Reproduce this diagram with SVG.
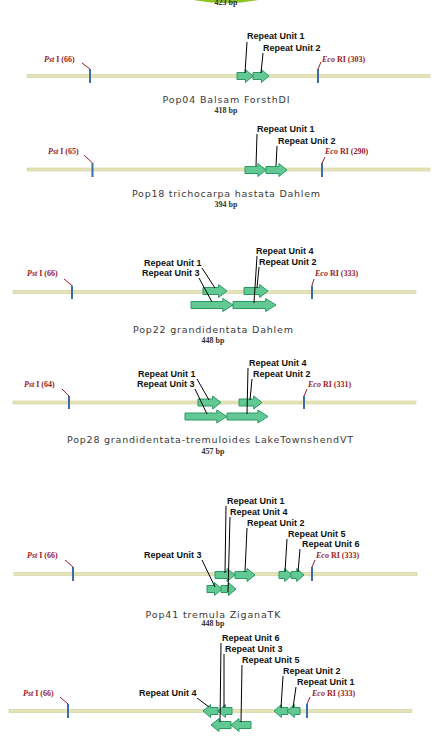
<svg xmlns="http://www.w3.org/2000/svg" width="438" height="745" viewBox="0 0 438 745">
<style>
.bb{fill:#e4e4b8;stroke:#cfcf9c;stroke-width:0.6}
.site{stroke:#3b6ea8;stroke-width:2}
.rl{stroke:#9a1c28;stroke-width:1}
.rs{font-family:"Liberation Serif",serif;font-size:8px;font-weight:bold;fill:#9a1c28}
.rs tspan.i{font-style:italic}
.ru{font-family:"Liberation Sans",Arial,sans-serif;font-size:9px;font-weight:bold;fill:#111}
.ld{stroke:#000;stroke-width:1;fill:none}
.ar{fill:#62c995;stroke:#2a9960;stroke-width:1;stroke-linejoin:miter}
.tt{font-family:"DejaVu Sans",sans-serif;font-size:9.5px;fill:#3a3a3a;text-anchor:middle}
.bp{font-family:"Liberation Serif",serif;font-size:8px;font-weight:bold;fill:#333;text-anchor:middle}
</style>

<g id="top">
<ellipse cx="226" cy="-30" rx="77" ry="33" fill="#8dc21f"/>
<text class="bp" x="226" y="5">423 bp</text>
</g>

<!-- Panel 1 -->
<g id="p1">
<rect class="bb" x="27" y="74.5" width="403" height="3"/>
<g id="p1-pst"><line class="rl" x1="82" y1="63" x2="90" y2="69"/><line class="site" x1="90" y1="69" x2="90" y2="83"/><text class="rs" x="44" y="62"><tspan class="i">Pst</tspan> I (66)</text></g>
<g id="p1-eco"><line class="rl" x1="318" y1="69" x2="321" y2="62"/><line class="site" x1="318" y1="69" x2="318" y2="83"/><text class="rs" x="322" y="62"><tspan class="i">Eco</tspan> RI (303)</text></g>
<g id="p1-ru1"><path class="ar" d="M237 72.5 H245.4 V69.5 L253 76 L245.4 82.5 V79.5 H237Z"/><text class="ru" x="247" y="39">Repeat Unit 1</text></g>
<g id="p1-ru2"><path class="ar" d="M253 72.5 H261.4 V69.5 L269 76 L261.4 82.5 V79.5 H253Z"/><text class="ru" x="263" y="51">Repeat Unit 2</text></g>
<text class="tt" x="226" y="103" textLength="127" lengthAdjust="spacing">Pop04 Balsam ForsthDI</text>
<text class="bp" x="226" y="113">418 bp</text>
</g>

<!-- Panel 2 -->
<g id="p2">
<rect class="bb" x="27" y="168" width="403" height="3"/>
<g id="p2-pst"><line class="rl" x1="84" y1="155" x2="92.5" y2="163"/><line class="site" x1="92.5" y1="163" x2="92.5" y2="177"/><text class="rs" x="48" y="154"><tspan class="i">Pst</tspan> I (65)</text></g>
<g id="p2-eco"><line class="rl" x1="322" y1="163" x2="325" y2="157"/><line class="site" x1="322" y1="163" x2="322" y2="177"/><text class="rs" x="325" y="154"><tspan class="i">Eco</tspan> RI (290)</text></g>
<g id="p2-ru1"><path class="ar" d="M245 166.5 H257.9 V163.5 L266 170 L257.9 176.5 V173.5 H245Z"/><text class="ru" x="257" y="132">Repeat Unit 1</text></g>
<g id="p2-ru2"><path class="ar" d="M266 166.5 H278.9 V163.5 L287 170 L278.9 176.5 V173.5 H266Z"/><text class="ru" x="278" y="144">Repeat Unit 2</text></g>
<text class="tt" x="226" y="197" textLength="188" lengthAdjust="spacing">Pop18 trichocarpa hastata Dahlem</text>
<text class="bp" x="226" y="207">394 bp</text>
</g>

<!-- Panel 3 -->
<g id="p3">
<rect class="bb" x="13" y="290.5" width="403" height="3"/>
<g id="p3-pst"><line class="rl" x1="64" y1="279" x2="72" y2="285.5"/><line class="site" x1="72" y1="285.5" x2="72" y2="299"/><text class="rs" x="27" y="276"><tspan class="i">Pst</tspan> I (66)</text></g>
<g id="p3-eco"><line class="rl" x1="312" y1="285.5" x2="314" y2="279"/><line class="site" x1="312" y1="285.5" x2="312" y2="299"/><text class="rs" x="315" y="276"><tspan class="i">Eco</tspan> RI (333)</text></g>
<g id="p3-ru1"><path class="ar" d="M203 287.5 H218.6 V284.5 L227 291 L218.6 297.5 V294.5 H203Z"/><text class="ru" x="144" y="266">Repeat Unit 1</text></g>
<g id="p3-ru2"><path class="ar" d="M244 287.5 H259.6 V284.5 L268 291 L259.6 297.5 V294.5 H244Z"/><text class="ru" x="259" y="265">Repeat Unit 2</text></g>
<g id="p3-ru3"><path class="ar" d="M191 301.5 H222.8 V298.5 L233 305 L222.8 311.5 V308.5 H191Z"/><text class="ru" x="142" y="276">Repeat Unit 3</text></g>
<g id="p3-ru4"><path class="ar" d="M233 301.5 H265.7 V298.5 L276 305 L265.7 311.5 V308.5 H233Z"/><text class="ru" x="256" y="254">Repeat Unit 4</text></g>
<text class="tt" x="213" y="333" textLength="160" lengthAdjust="spacing">Pop22 grandidentata Dahlem</text>
<text class="bp" x="213" y="343">448 bp</text>
</g>

<!-- Panel 4 -->
<g id="p4">
<rect class="bb" x="13" y="401" width="403" height="3"/>
<g id="p4-pst"><line class="rl" x1="62" y1="389" x2="69" y2="396"/><line class="site" x1="69" y1="396" x2="69" y2="409"/><text class="rs" x="24" y="387"><tspan class="i">Pst</tspan> I (64)</text></g>
<g id="p4-eco"><line class="rl" x1="304" y1="396" x2="307" y2="389"/><line class="site" x1="304" y1="396" x2="304" y2="409"/><text class="rs" x="308" y="387"><tspan class="i">Eco</tspan> RI (331)</text></g>
<g id="p4-ru1"><path class="ar" d="M198 399 H212.7 V396 L221 402.5 L212.7 409 V406 H198Z"/><text class="ru" x="138" y="377">Repeat Unit 1</text></g>
<g id="p4-ru2"><path class="ar" d="M239 399 H253.7 V396 L262 402.5 L253.7 409 V406 H239Z"/><text class="ru" x="253" y="377">Repeat Unit 2</text></g>
<g id="p4-ru3"><path class="ar" d="M185 413 H216.8 V410 L227 416.5 L216.8 423 V420 H185Z"/><text class="ru" x="137" y="387">Repeat Unit 3</text></g>
<g id="p4-ru4"><path class="ar" d="M227 413 H257.9 V410 L268 416.5 L257.9 423 V420 H227Z"/><text class="ru" x="249" y="366">Repeat Unit 4</text></g>
<text class="tt" x="210" y="443" textLength="286" lengthAdjust="spacing">Pop28 grandidentata-tremuloides LakeTownshendVT</text>
<text class="bp" x="213" y="454">457 bp</text>
</g>

<!-- Panel 5 -->
<g id="p5">
<rect class="bb" x="14" y="572.5" width="403" height="3"/>
<g id="p5-pst"><line class="rl" x1="65" y1="560" x2="73" y2="567"/><line class="site" x1="73" y1="567" x2="73" y2="581"/><text class="rs" x="27" y="558"><tspan class="i">Pst</tspan> I (66)</text></g>
<g id="p5-eco"><line class="rl" x1="312" y1="567" x2="315" y2="560"/><line class="site" x1="312" y1="567" x2="312" y2="581"/><text class="rs" x="316" y="558"><tspan class="i">Eco</tspan> RI (333)</text></g>
<g id="p5-ru1"><path class="ar" d="M215 571.5 H227 V568.5 L235 575 L227 581.5 V578.5 H215Z"/><text class="ru" x="227" y="504">Repeat Unit 1</text></g>
<g id="p5-ru2"><path class="ar" d="M235 571.5 H247 V568.5 L255 575 L247 581.5 V578.5 H235Z"/><text class="ru" x="247" y="526">Repeat Unit 2</text></g>
<g id="p5-ru5"><path class="ar" d="M279 571.5 H284.7 V568.5 L292 575 L284.7 581.5 V578.5 H279Z"/><text class="ru" x="288" y="537">Repeat Unit 5</text></g>
<g id="p5-ru6"><path class="ar" d="M291 571.5 H296.7 V568.5 L304 575 L296.7 581.5 V578.5 H291Z"/><text class="ru" x="302" y="547">Repeat Unit 6</text></g>
<g id="p5-ru3"><path class="ar" d="M207 585.5 H214.5 V582.5 L222 589 L214.5 595.5 V592.5 H207Z"/><text class="ru" x="144" y="558">Repeat Unit 3</text></g>
<g id="p5-ru4"><path class="ar" d="M221 585.5 H228.5 V582.5 L236 589 L228.5 595.5 V592.5 H221Z"/><text class="ru" x="230" y="515">Repeat Unit 4</text></g>
<text class="tt" x="213" y="618" textLength="135" lengthAdjust="spacing">Pop41 tremula ZiganaTK</text>
<text class="bp" x="213" y="626">448 bp</text>
</g>

<!-- Panel 6 -->
<g id="p6">
<rect class="bb" x="9" y="709.5" width="403" height="3"/>
<g id="p6-pst"><line class="rl" x1="60" y1="697" x2="68" y2="704"/><line class="site" x1="68" y1="704" x2="68" y2="718"/><text class="rs" x="23" y="696"><tspan class="i">Pst</tspan> I (66)</text></g>
<g id="p6-eco"><line class="rl" x1="307" y1="704" x2="310" y2="697"/><line class="site" x1="307" y1="704" x2="307" y2="718"/><text class="rs" x="312" y="696"><tspan class="i">Eco</tspan> RI (333)</text></g>
<g id="p6-ru4"><path class="ar" d="M218 707.5 H210.5 V704.5 L203 711 L210.5 717.5 V714.5 H218Z"/><text class="ru" x="139" y="696">Repeat Unit 4</text></g>
<g id="p6-ru3"><path class="ar" d="M232 707.5 H225.4 V704.5 L218 711 L225.4 717.5 V714.5 H232Z"/><text class="ru" x="225" y="652">Repeat Unit 3</text></g>
<g id="p6-ru2"><path class="ar" d="M288 707.5 H281.4 V704.5 L274 711 L281.4 717.5 V714.5 H288Z"/><text class="ru" x="283" y="674">Repeat Unit 2</text></g>
<g id="p6-ru1"><path class="ar" d="M300 707.5 H294.3 V704.5 L287 711 L294.3 717.5 V714.5 H300Z"/><text class="ru" x="297" y="685">Repeat Unit 1</text></g>
<g id="p6-ru6"><path class="ar" d="M231 721.5 H219 V718.5 L211 725 L219 731.5 V728.5 H231Z"/><text class="ru" x="222" y="641">Repeat Unit 6</text></g>
<g id="p6-ru5"><path class="ar" d="M251 721.5 H239 V718.5 L231 725 L239 731.5 V728.5 H251Z"/><text class="ru" x="242" y="663">Repeat Unit 5</text></g>
</g>

<g id="connectors">
<path class="ld" d="M247 42 L245 73"/>
<path class="ld" d="M263 53 L261 73"/>
<path class="ld" d="M257 134 L256 166"/>
<path class="ld" d="M277 146 L276 166"/>
<path class="ld" d="M202 268 L215 288"/>
<path class="ld" d="M199 278 L212 302"/>
<path class="ld" d="M257 256 L254 303"/>
<path class="ld" d="M259 267 L257 288"/>
<path class="ld" d="M248 368 L247 414"/>
<path class="ld" d="M197 379 L209 400"/>
<path class="ld" d="M252 379 L250 400"/>
<path class="ld" d="M195 389 L207 414"/>
<path class="ld" d="M226 506 L225 573"/>
<path class="ld" d="M230 517 L228 592"/>
<path class="ld" d="M247 528 L245 572"/>
<path class="ld" d="M287 539 L285 572"/>
<path class="ld" d="M300 549 L298 572"/>
<path class="ld" d="M202 560 L215 587"/>
<path class="ld" d="M221 643 L220 722"/>
<path class="ld" d="M224 654 L224 708"/>
<path class="ld" d="M242 665 L241 722"/>
<path class="ld" d="M283 676 L281 708"/>
<path class="ld" d="M296 687 L293 708"/>
<path class="ld" d="M197 698 L209 707"/>
</g>
</svg>
